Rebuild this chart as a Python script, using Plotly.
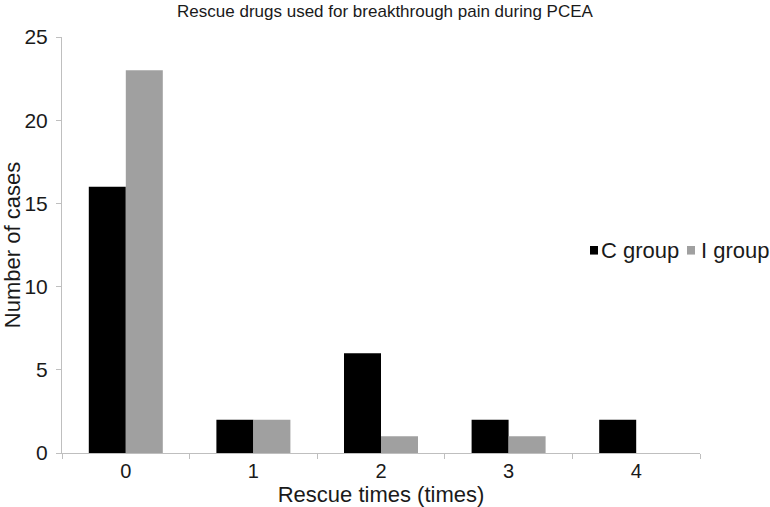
import plotly.graph_objects as go

categories = ["0", "1", "2", "3", "4"]
c_group = [16, 2, 6, 2, 2]
i_group = [23, 2, 1, 1, 0]
y_ticks = [0, 5, 10, 15, 20, 25]
series_names = ["C group", "I group"]
series_colors = ["#000000", "#a0a0a0"]

font = "Liberation Sans, Arial, sans-serif"

fig = go.Figure()
for name, vals, col in zip(series_names, [c_group, i_group], series_colors):
    fig.add_trace(go.Bar(x=categories, y=vals, name=name, showlegend=False,
                         marker=dict(color=col, line=dict(width=0))))

# compact legend: square swatch directly followed by the series name
swatch_x = [(0.8276, 0.8401), (0.9796, 0.9922)]
label_x = [0.8433, 0.9995]
for name, col, (x0, x1), lx in zip(series_names, series_colors, swatch_x, label_x):
    fig.add_shape(type="rect", xref="paper", yref="paper", x0=x0, x1=x1,
                  y0=0.477, y1=0.4976, fillcolor=col, line=dict(width=0))
    fig.add_annotation(
        xref="paper", yref="paper", x=lx, y=0.4856, xanchor="left", yanchor="middle",
        showarrow=False, borderpad=0, text=name,
        font=dict(size=22, color="#1a1a1a", family=font),
    )

fig.update_layout(
    width=770, height=507,
    margin=dict(l=62, r=70, t=37, b=54, autoexpand=False),
    paper_bgcolor="white", plot_bgcolor="white",
    font=dict(family=font, color="#1a1a1a", size=20),
    title=dict(text="Rescue drugs used for breakthrough pain during PCEA",
               x=0.5, xanchor="center", y=0.979, yanchor="middle",
               font=dict(size=17, color="#1a1a1a")),
    barmode="group", bargap=0.42, bargroupgap=0,
    showlegend=False,
    xaxis=dict(showline=True, linecolor="#bfbfbf", linewidth=1, automargin=False,
               ticks="outside", tickson="boundaries", ticklen=5, tickcolor="#bfbfbf",
               title=dict(text="Rescue times (times)", font=dict(size=22), standoff=2),
               tickfont=dict(size=20), showgrid=False),
    yaxis=dict(range=[0, 25], tickvals=y_ticks, showline=True, linecolor="#bfbfbf",
               linewidth=1, ticks="outside", ticklen=5, tickcolor="#bfbfbf",
               automargin=False, ticklabelstandoff=4,
               title=dict(text="Number of cases", font=dict(size=22), standoff=4),
               tickfont=dict(size=21), showgrid=False, zeroline=False),
)

fig.write_html("out.html", config={"displayModeBar": False},
               post_script="document.body.style.margin='0';document.body.style.padding='0';")
